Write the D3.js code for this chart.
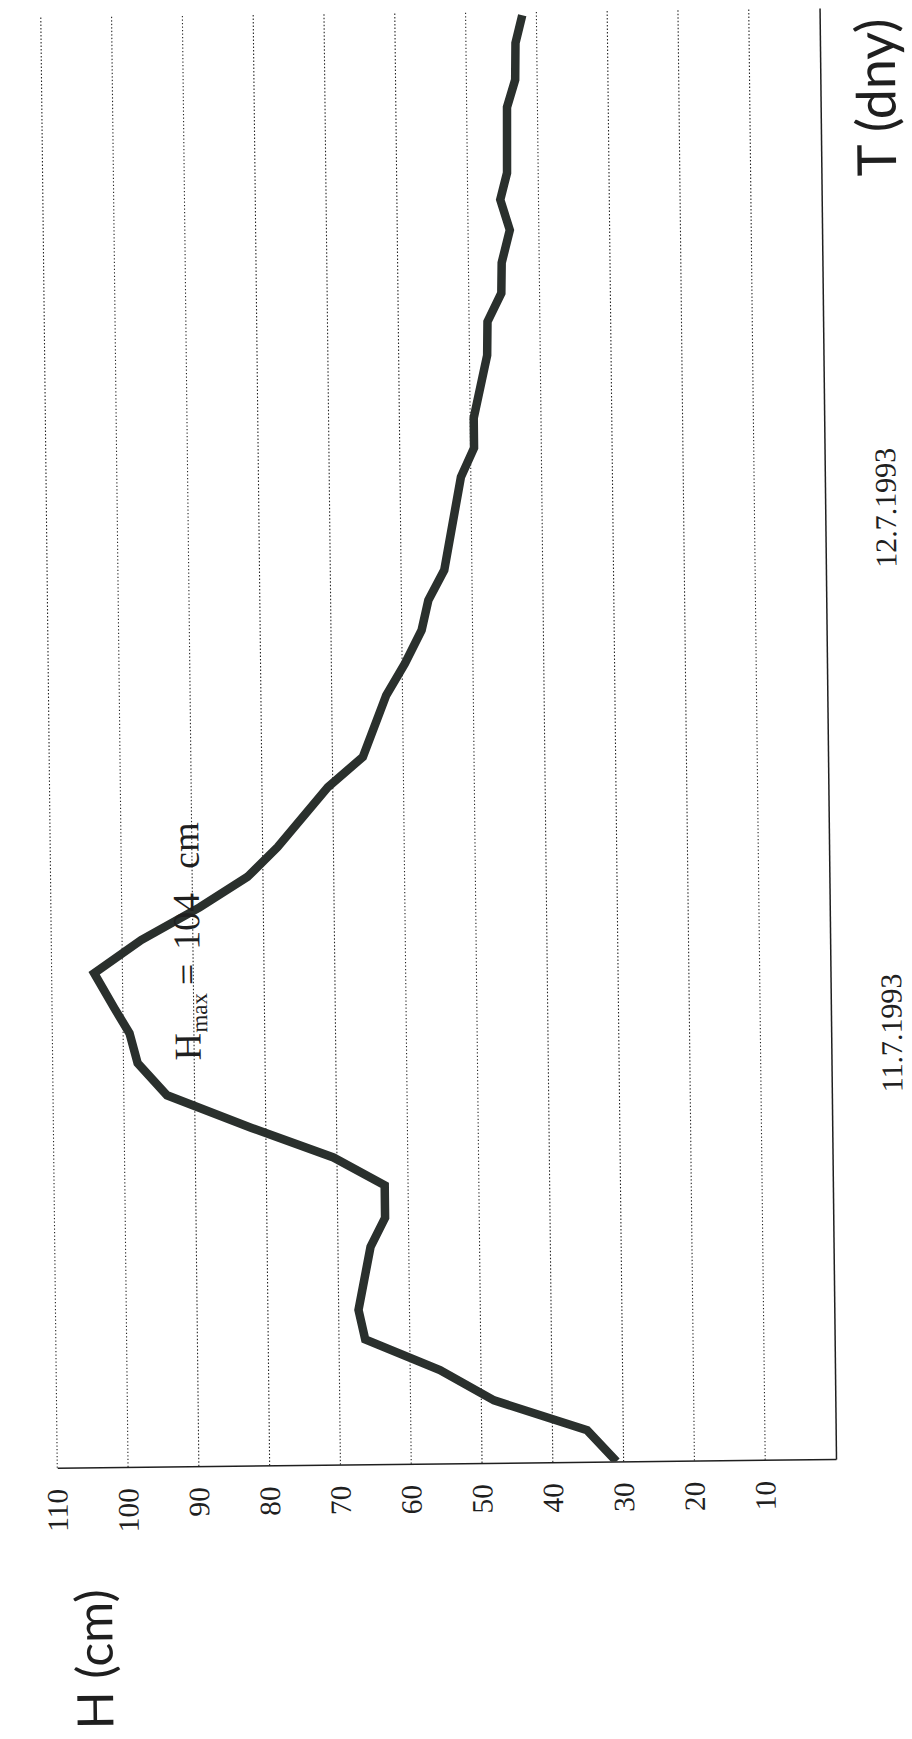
<!DOCTYPE html>
<html>
<head>
<meta charset="utf-8">
<script src="https://cdn.jsdelivr.net/npm/d3@7"></script>
<style>
  html, body { margin: 0; padding: 0; background: #ffffff; }
  svg { display: block; }
</style>
</head>
<body>
<svg id="chart" width="912" height="1739"></svg>
<script>
// Water level H (cm) during the flood wave of July 1993.
// Time is counted in days from 11.7.1993 00:00.
const timeDays = [-0.811, -0.751, -0.692, -0.633, -0.573, -0.517, -0.397, -0.342, -0.280, -0.226,
                  -0.168, -0.104, -0.042, 0.015, 0.063, 0.130, 0.192, 0.253, 0.310, 0.366,
                  0.479, 0.536, 0.653, 0.713, 0.776, 0.833, 0.890, 1.067, 1.122, 1.179,
                  1.298, 1.362, 1.416, 1.474, 1.536, 1.594, 1.645, 1.770, 1.822, 1.892, 1.945];
const levelCm = [31, 35.1, 48.2, 55.8, 66.3, 67.2, 65.4, 63.3, 63.3, 70.5,
                 82, 93.9, 98.0, 99.1, 101.2, 104, 97.3, 89.0, 82.2, 77.9,
                 70.7, 65.7, 62.3, 59.6, 57.2, 56.2, 53.9, 51.4, 49.5, 49.5,
                 47.5, 47.4, 45.4, 45.3, 44.1, 45.4, 44.4, 44.3, 43.1, 43.0, 42.0];
const levelTicks = [10, 20, 30, 40, 50, 60, 70, 80, 90, 100, 110];
const dateTicks = [0, 1];
const dateLabels = ["11.7.1993", "12.7.1993"];
const timeExtent = [-0.811, 1.952];

const series = timeDays.map((t, i) => ({ t, h: levelCm[i] }));
const hMax = d3.max(levelCm);

// Layout: the chart is printed sideways (time runs up the page, H grows to the left)
const corner = { x: 836, y: 1459 };
const tilt = -0.65;
const serif = "'Liberation Serif', 'Times New Roman', serif";
const sans = "Lato, 'Open Sans', sans-serif";
const ink = "#1f1f1f";

const svg = d3.select("#chart");
svg.append("rect").attr("width", 912).attr("height", 1739).attr("fill", "#ffffff");

const g = svg.append("g").attr("transform", `rotate(${tilt}, ${corner.x}, ${corner.y})`);

const xH = d3.scaleLinear().domain([0, 110]).range([corner.x, 57.2]);
const yT = d3.scaleLinear().domain(timeExtent).range([corner.y, 8]);

// dotted level grid
g.append("g").selectAll("line").data(levelTicks).join("line")
  .attr("x1", d => xH(d)).attr("x2", d => xH(d))
  .attr("y1", yT(timeExtent[0])).attr("y2", yT(timeExtent[1]))
  .attr("stroke", "#262626").attr("stroke-width", 1.1)
  .attr("stroke-dasharray", "1.4 2.1");

// hydrograph
g.append("clipPath").attr("id", "plot-clip")
  .append("rect").attr("x", 0).attr("y", 0)
  .attr("width", 912).attr("height", corner.y);

const line = d3.line().x(d => xH(d.h)).y(d => yT(d.t));
g.append("path").datum(series)
  .attr("clip-path", "url(#plot-clip)")
  .attr("d", line)
  .attr("fill", "none")
  .attr("stroke", "#2a302d")
  .attr("stroke-width", 8.5)
  .attr("stroke-linejoin", "miter")
  .attr("stroke-miterlimit", 6);

// level axis (along the bottom of the page)
const axisH = d3.axisBottom(xH).tickValues(levelTicks).tickSize(0).tickSizeOuter(0);
const gH = g.append("g").attr("transform", `translate(0,${corner.y})`).call(axisH);
gH.select(".domain").attr("stroke", ink).attr("stroke-width", 1.5);
gH.selectAll("text")
  .attr("transform", "rotate(-90)")
  .attr("x", -21).attr("y", 0).attr("dy", "0.32em")
  .attr("text-anchor", "end")
  .attr("fill", ink)
  .style("font-family", serif).style("font-size", "29.5px");

// time axis (right edge)
const axisT = d3.axisRight(yT).tickValues(dateTicks)
  .tickFormat((d, i) => dateLabels[i]).tickSize(0).tickSizeOuter(0);
const gT = g.append("g").attr("transform", `translate(${corner.x},0)`).call(axisT);
gT.select(".domain").attr("stroke", ink).attr("stroke-width", 1.5);
gT.selectAll("text")
  .attr("transform", "rotate(-90)")
  .attr("x", 0).attr("y", 61).attr("dy", "0.32em")
  .attr("text-anchor", "middle")
  .attr("fill", ink)
  .style("font-family", serif).style("font-size", "30px");

// axis titles
g.append("text")
  .attr("transform", "translate(93,1651) rotate(-90)")
  .attr("text-anchor", "middle").attr("dy", "0.35em")
  .attr("fill", ink)
  .style("font-family", sans).style("font-size", "50px")
  .text("H (cm)");

g.append("text")
  .attr("transform", "translate(892,98) rotate(-90)")
  .attr("text-anchor", "middle").attr("dy", "0.35em")
  .attr("fill", ink)
  .style("font-family", sans).style("font-size", "54px")
  .text("T (dny)");

// peak annotation
const peak = g.append("text")
  .attr("transform", "translate(192,934) rotate(-90)")
  .attr("text-anchor", "middle").attr("dy", "0.35em")
  .attr("fill", ink)
  .style("font-family", serif).style("font-size", "38px");
peak.append("tspan").text("H");
peak.append("tspan").attr("dy", "0.3em").style("font-size", "23px").text("max");
peak.append("tspan").attr("dy", "-0.18em").attr("dx", 8).text("=");
peak.append("tspan").attr("dx", 14).text(hMax);
peak.append("tspan").attr("dx", 24).text("cm");
</script>
</body>
</html>
